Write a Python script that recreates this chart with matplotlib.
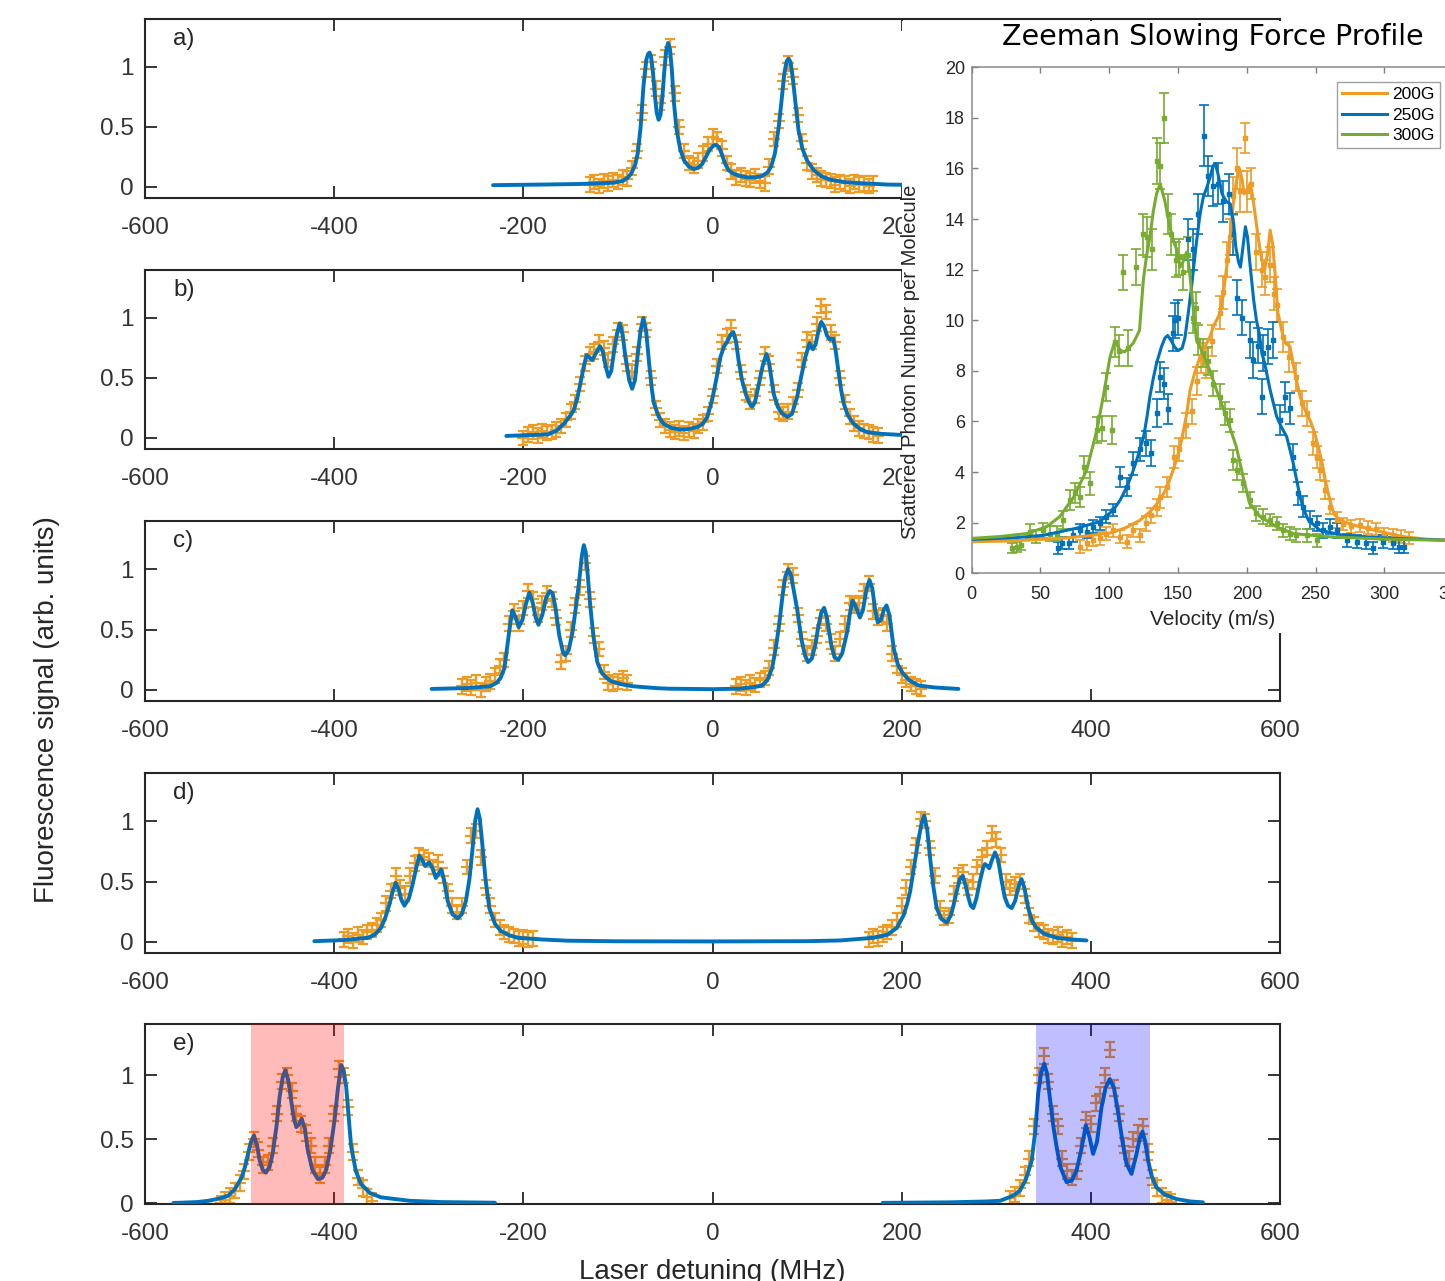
import matplotlib
matplotlib.use("Agg")
import matplotlib.pyplot as plt
from matplotlib.patches import Rectangle
from matplotlib.lines import Line2D

plt.rcParams["font.family"] = ["Liberation Sans", "DejaVu Sans"]
plt.rcParams["axes.unicode_minus"] = False

ORANGE = "#EF9B24"
BLUE = "#0072BD"
GREEN = "#77AC30"
AXC = "#262626"

# ---------------- main panels: measured points (5 MHz scan) ----------------
a_x = [-130, -125, -120, -115, -110, -105, -100, -95, -90, -85,
       -80, -75, -70, -65, -60, -55, -50, -45, -40, -35,
       -30, -25, -20, -15, -10, -5, 0, 5, 10, 15,
       20, 25, 30, 35, 40, 45, 50, 55, 60, 65,
       70, 75, 80, 85, 90, 95, 100, 105, 110, 115,
       120, 125, 130, 135, 140, 145, 150, 155, 160, 165, 170]
a_y = [0.02, 0.04, 0.01, 0.05, 0.03, 0.06, 0.04, 0.08, 0.07, 0.16,
       0.30, 0.62, 0.98, 1.04, 0.82, 0.70, 1.08, 1.17, 0.78, 0.50,
       0.30, 0.20, 0.18, 0.22, 0.28, 0.36, 0.42, 0.40, 0.32, 0.20,
       0.13, 0.08, 0.10, 0.07, 0.06, 0.09, 0.05, 0.03, 0.17, 0.40,
       0.55, 0.88, 1.03, 0.92, 0.60, 0.38, 0.20, 0.13, 0.10, 0.07,
       0.06, 0.05, 0.02, 0.04, 0.03, 0.01, 0.04, 0.02, 0.03, 0.01, 0.03]

b_x = [-200, -195, -190, -185, -180, -175, -170, -165, -160, -155,
       -150, -145, -140, -135, -130, -125, -120, -115, -110, -105,
       -100, -95, -90, -85, -80, -75, -70, -65, -60, -55,
       -50, -45, -40, -35, -30, -25, -20, -15, -10, -5,
       0, 5, 10, 15, 20, 25, 30, 35, 40, 45,
       50, 55, 60, 65, 70, 75, 80, 85, 90, 95,
       100, 105, 110, 115, 120, 125, 130, 135, 140, 145,
       150, 155, 160, 165, 170, 175]
b_y = [0.00, 0.03, 0.05, 0.02, 0.06, 0.04, 0.05, 0.07, 0.10, 0.15,
       0.22, 0.30, 0.45, 0.62, 0.70, 0.72, 0.80, 0.75, 0.65, 0.78,
       0.90, 0.88, 0.62, 0.55, 0.70, 0.95, 0.90, 0.50, 0.25, 0.15,
       0.10, 0.07, 0.05, 0.08, 0.04, 0.07, 0.06, 0.10, 0.13, 0.20,
       0.35, 0.60, 0.80, 0.85, 0.92, 0.80, 0.55, 0.38, 0.30, 0.35,
       0.50, 0.70, 0.62, 0.38, 0.22, 0.20, 0.22, 0.28, 0.40, 0.65,
       0.82, 0.80, 0.95, 1.10, 1.05, 0.88, 0.80, 0.50, 0.30, 0.18,
       0.12, 0.08, 0.06, 0.05, 0.03, 0.02]

c_x = [-265, -260, -255, -250, -245, -240, -235, -230, -225, -220,
       -215, -210, -205, -200, -195, -190, -185, -180, -175, -170,
       -165, -160, -155, -150, -145, -140, -135, -130, -125, -120,
       -115, -110, -105, -100, -95, -90,
       25, 30, 35, 40, 45, 50, 55, 60, 65, 70,
       75, 80, 85, 90, 95, 100, 105, 110, 115, 120,
       125, 130, 135, 140, 145, 150, 155, 160, 165, 170,
       175, 180, 185, 190, 195, 200, 205, 210, 215, 220]
c_y = [0.03, 0.05, 0.02, 0.06, 0.00, 0.05, 0.07, 0.12, 0.20, 0.25,
       0.55, 0.65, 0.55, 0.68, 0.82, 0.75, 0.62, 0.72, 0.80, 0.75,
       0.60, 0.23, 0.30, 0.50, 0.70, 0.85, 1.05, 0.75, 0.45, 0.34,
       0.15, 0.06, 0.05, 0.07, 0.10, 0.06,
       0.03, 0.05, 0.02, 0.06, 0.04, 0.08, 0.10, 0.18, 0.35, 0.55,
       0.85, 0.98, 0.95, 0.62, 0.42, 0.30, 0.35, 0.45, 0.60, 0.55,
       0.40, 0.30, 0.42, 0.55, 0.72, 0.70, 0.72, 0.82, 0.88, 0.65,
       0.60, 0.62, 0.55, 0.30, 0.20, 0.12, 0.08, 0.05, 0.03, 0.01]

d_x = [-390, -385, -380, -375, -370, -365, -360, -355, -350, -345,
       -340, -335, -330, -325, -320, -315, -310, -305, -300, -295,
       -290, -285, -280, -275, -270, -265, -260, -255, -250, -245,
       -240, -235, -230, -225, -220, -215, -210, -205, -200, -195, -190,
       165, 170, 175, 180, 185, 190, 195, 200, 205, 210,
       215, 220, 225, 230, 235, 240, 245, 250, 255, 260,
       265, 270, 275, 280, 285, 290, 295, 300, 305, 310,
       315, 320, 325, 330, 335, 340, 345, 350, 355, 360,
       365, 370, 375, 380]
d_y = [0.02, 0.05, 0.01, 0.06, 0.04, 0.08, 0.10, 0.14, 0.18, 0.32,
       0.42, 0.55, 0.45, 0.40, 0.55, 0.65, 0.72, 0.70, 0.68, 0.62,
       0.66, 0.55, 0.42, 0.30, 0.25, 0.30, 0.62, 0.88, 0.92, 0.70,
       0.45, 0.30, 0.18, 0.12, 0.08, 0.06, 0.05, 0.03, 0.04, 0.02, 0.03,
       0.02, 0.05, 0.03, 0.06, 0.08, 0.12, 0.18, 0.30, 0.45, 0.62,
       0.80, 1.02, 1.00, 0.78, 0.55, 0.28, 0.20, 0.22, 0.40, 0.55,
       0.58, 0.45, 0.50, 0.62, 0.70, 0.78, 0.90, 0.85, 0.72, 0.50,
       0.45, 0.48, 0.50, 0.38, 0.22, 0.15, 0.10, 0.08, 0.05, 0.04,
       0.06, 0.02, 0.04, 0.01]

e_x = [-520, -515, -510, -505, -500, -495, -490, -485, -480, -475,
       -470, -465, -460, -455, -450, -445, -440, -435, -430, -425,
       -420, -415, -410, -405, -400, -395, -390, -385, -380, -375,
       -370, -365, -360,
       315, 320, 325, 330, 335, 340, 345, 350, 355, 360,
       365, 370, 375, 380, 385, 390, 395, 400, 405, 410,
       415, 420, 425, 430, 435, 440, 445, 450, 455, 460,
       465, 470, 475, 480, 485]
e_y = [0.00, 0.03, 0.06, 0.10, 0.16, 0.25, 0.40, 0.50, 0.42, 0.30,
       0.32, 0.45, 0.70, 0.95, 1.00, 0.88, 0.70, 0.62, 0.55, 0.45,
       0.30, 0.22, 0.30, 0.45, 0.70, 1.05, 1.00, 0.75, 0.40, 0.20,
       0.12, 0.05, 0.02,
       0.04, 0.07, 0.12, 0.22, 0.35, 0.60, 1.00, 1.15, 0.95, 0.70,
       0.60, 0.35, 0.25, 0.20, 0.25, 0.45, 0.65, 0.62, 0.78, 0.85,
       1.00, 1.20, 0.90, 0.70, 0.45, 0.35, 0.50, 0.55, 0.60, 0.40,
       0.20, 0.12, 0.06, 0.03, 0.01]

data_err = 0.06

# ---------------- main panels: fitted spectra ----------------
a_fit_x = [-232, -180, -140, -115, -104, -95, -90, -86, -82, -79, -76, -73, -70, -68,
           -66.5, -65, -63, -61, -59, -57, -55, -53, -51, -49, -47, -45, -43, -41,
           -38, -34, -30, -25, -20, -15, -11, -7, -3, 1, 4, 7, 10, 13, 17, 22, 30,
           37, 45, 52, 58, 62, 66, 70, 73, 76, 78.5, 80.5, 82.5, 85, 88, 91, 95,
           100, 107, 115, 125, 140, 160, 185, 230]
a_fit_y = [0.015, 0.02, 0.025, 0.032, 0.036, 0.05, 0.075, 0.11, 0.18, 0.28, 0.50, 0.84, 1.06, 1.11,
           1.12, 1.09, 0.96, 0.77, 0.62, 0.56, 0.60, 0.75, 0.96, 1.13, 1.20, 1.15, 0.98, 0.72,
           0.48, 0.31, 0.22, 0.17, 0.15, 0.16, 0.19, 0.25, 0.31, 0.345, 0.35, 0.33, 0.27, 0.20, 0.14, 0.11, 0.09,
           0.08, 0.08, 0.09, 0.12, 0.17, 0.28, 0.50, 0.72, 0.95, 1.05, 1.07, 1.04, 0.90, 0.68, 0.47, 0.32,
           0.22, 0.14, 0.09, 0.06, 0.04, 0.03, 0.02, 0.015]

b_fit_x = [-218, -190, -174, -165, -157, -150, -146.7, -143, -139, -136, -133, -130, -127, -123,
           -119, -116, -113, -110, -107, -104.5, -101, -98, -95, -92, -88, -85, -82, -79,
           -76, -73, -70, -67, -64, -62, -57, -52, -44, -34, -25, -16, -10, -5.6, -2, 1,
           5, 8.4, 12, 15.4, 19, 22, 25, 27.5, 31, 35, 39, 42, 45, 49, 53, 57, 60, 64.6,
           69, 73.6, 79, 84, 89.4, 94, 98.2, 102.6, 106, 109, 112, 115, 118, 121, 124,
           127.5, 130, 133, 136, 138.6, 143, 149, 156, 163, 177, 200, 230]
b_fit_y = [0.017, 0.025, 0.03, 0.06, 0.12, 0.19, 0.23, 0.33, 0.48, 0.60, 0.69, 0.67, 0.65, 0.71,
           0.765, 0.72, 0.60, 0.51, 0.56, 0.70, 0.87, 0.955, 0.86, 0.67, 0.48, 0.41, 0.48, 0.70,
           0.90, 1.00, 0.88, 0.62, 0.40, 0.29, 0.18, 0.12, 0.085, 0.07, 0.075, 0.09, 0.12, 0.175, 0.27, 0.37,
           0.53, 0.675, 0.76, 0.80, 0.86, 0.883, 0.80, 0.65, 0.49, 0.37, 0.29, 0.26, 0.30, 0.45, 0.60, 0.70, 0.62, 0.37,
           0.26, 0.205, 0.175, 0.20, 0.34, 0.52, 0.675, 0.79, 0.74, 0.78, 0.89, 0.967, 0.93, 0.855, 0.82,
           0.83, 0.74, 0.565, 0.40, 0.29, 0.19, 0.12, 0.075, 0.05, 0.035, 0.025, 0.02]

c_fit_x = [-297, -260, -235, -228, -224, -220, -218, -215, -211.7, -208, -205, -201, -197, -193.6,
           -190, -187, -184, -180, -176, -172, -169, -166, -162, -158, -155.8, -152, -148, -144.5,
           -141, -138, -136, -134, -132, -129.4, -126, -121.8, -117, -112, -106.7, -95, -84, -60,
           -46, 0, 29, 45, 52, 58, 63, 67, 70.8, 74, 77, 80, 83, 86, 89.7, 94, 98, 101, 105,
           108.6, 112, 115, 118, 121, 125.6, 129, 133, 137, 140, 142.6, 145, 148, 151, 155.8,
           159, 163, 166, 169, 172, 174.7, 178, 181, 184, 187, 191.7, 196, 201, 208, 218, 235, 260]
c_fit_y = [0.008, 0.015, 0.03, 0.06, 0.10, 0.18, 0.30, 0.48, 0.66, 0.60, 0.52, 0.58, 0.72, 0.806,
           0.72, 0.60, 0.54, 0.62, 0.76, 0.82, 0.80, 0.68, 0.45, 0.31, 0.287, 0.33, 0.48, 0.68,
           0.90, 1.12, 1.20, 1.14, 0.96, 0.71, 0.45, 0.23, 0.14, 0.10, 0.07, 0.045, 0.03, 0.015,
           0.01, 0.006, 0.01, 0.025, 0.035, 0.08, 0.18, 0.35, 0.56, 0.78, 0.94, 1.00, 0.95, 0.82, 0.66, 0.42, 0.28, 0.23, 0.26,
           0.37, 0.53, 0.64, 0.68, 0.60, 0.37, 0.27, 0.25, 0.30, 0.40, 0.49, 0.62, 0.74, 0.70, 0.60,
           0.66, 0.84, 0.91, 0.84, 0.66, 0.56, 0.58, 0.66, 0.70, 0.62, 0.34, 0.21, 0.14, 0.08, 0.036, 0.02, 0.008]

d_fit_x = [-421, -390, -364.5, -357, -350.4, -346, -341.6, -338, -335, -332, -329, -325.8, -321, -317,
           -313, -310, -307, -304, -301.5, -299.5, -296, -292.5, -290, -287, -284, -280, -275,
           -269.5, -265, -260.7, -257, -253.6, -251, -248.4, -246, -243, -240, -236, -230, -223.7,
           -215, -206, -180, -153, -100, 0, 100, 135, 170, 185, 195, 202, 206, 209, 213, 217.6,
           221, 223.8, 227, 230, 233.5, 237, 242, 247.7, 252, 255, 258.2, 261.5, 264.6, 267.5,
           270.5, 273, 275.8, 279, 282.8, 286, 288, 290.5, 292.6, 295.5, 298.7, 302, 305.7, 309,
           312.5, 316.3, 320, 323.5, 326.8, 330, 333.8, 338, 342.6, 350, 363.8, 380, 395.4]
d_fit_y = [0.006, 0.015, 0.034, 0.06, 0.117, 0.20, 0.31, 0.42, 0.49, 0.44, 0.35, 0.30, 0.36, 0.48,
           0.62, 0.714, 0.68, 0.63, 0.645, 0.66, 0.61, 0.53, 0.56, 0.60, 0.52, 0.34, 0.23,
           0.195, 0.23, 0.34, 0.52, 0.78, 1.00, 1.10, 1.02, 0.78, 0.52, 0.28, 0.15, 0.09,
           0.055, 0.034, 0.02, 0.01, 0.005, 0.004, 0.006, 0.012, 0.034, 0.06, 0.117, 0.22, 0.32, 0.42, 0.62, 0.84,
           0.98, 1.047, 0.93, 0.70, 0.46, 0.28, 0.19, 0.16, 0.22, 0.31, 0.42, 0.52, 0.547, 0.47,
           0.37, 0.30, 0.28, 0.36, 0.506, 0.61, 0.645, 0.63, 0.61, 0.68, 0.742, 0.68, 0.506, 0.37,
           0.30, 0.28, 0.34, 0.46, 0.52, 0.44, 0.28, 0.17, 0.117, 0.07, 0.034, 0.02, 0.012]

e_fit_left_x = [-570, -545, -533, -520, -512, -505, -498, -494, -491, -488, -484.8, -481.5, -478.8,
                -475.5, -472.4, -468.5, -465, -461, -457.7, -454.5, -451.7, -448.5, -445.4, -442.5,
                -440, -437, -434.3, -431, -427.8, -423, -417.3, -412.5, -408.5, -404, -399.6, -396,
                -392.6, -390, -387.3, -384.5, -382, -377, -371.5, -362, -350.4, -320, -287, -230]
e_fit_left_y = [0.003, 0.01, 0.02, 0.04, 0.06, 0.11, 0.20, 0.29, 0.39, 0.48, 0.53, 0.45, 0.335,
                0.26, 0.24, 0.28, 0.39, 0.60, 0.83, 0.98, 1.04, 0.96, 0.80, 0.66,
                0.595, 0.62, 0.66, 0.58, 0.413, 0.26, 0.19, 0.20, 0.26, 0.42, 0.65, 0.90,
                1.08, 1.04, 0.91, 0.66, 0.44, 0.25, 0.15, 0.08, 0.047, 0.02, 0.01, 0.005]
e_fit_right_x = [180, 250, 290, 304, 318, 325, 331, 337.4, 341, 344.4, 347.5, 350.7, 353.5, 356.6,
                 360, 363.8, 368, 374.4, 380, 385, 390, 394.7, 398.5, 402.4, 406.5, 411.3, 415.5,
                 420, 424.5, 429, 433.5, 437.7, 443, 448.3, 451.5, 454.6, 457.5, 460.5, 464.5,
                 469.3, 478, 490.4, 505, 518.5]
e_fit_right_y = [0.004, 0.008, 0.015, 0.02, 0.06, 0.10, 0.18, 0.33, 0.55, 0.86, 1.02, 1.09, 1.02, 0.83,
                 0.62, 0.44, 0.28, 0.165, 0.18, 0.26, 0.42, 0.61, 0.52, 0.386, 0.48, 0.75, 0.90,
                 0.97, 0.90, 0.70, 0.48, 0.31, 0.23, 0.386, 0.50, 0.56, 0.48, 0.335, 0.21,
                 0.125, 0.07, 0.034, 0.015, 0.008]

panel_labels = ["a)", "b)", "c)", "d)", "e)"]
red_band = (-488, -390)
blue_band = (342, 463)

# ---------------- inset: Zeeman slowing force profile ----------------
fields = ["200G", "250G", "300G"]

v200 = [78.5, 83.6, 88.4, 93, 98, 103, 107.8, 112.6, 117.5, 122.4,
        127, 130.7, 134.4, 137, 142, 147, 151, 156, 160, 163.5,
        167, 170.5, 175, 180.5, 183, 185.4, 187.6, 190, 192.6, 195,
        198.7, 200.5, 203.2, 207, 210.8, 213, 217, 220, 222, 226.6,
        231, 236, 240, 243.5, 248.3, 250.7, 253, 257, 260.6, 265.5,
        270, 276, 282, 288, 294, 300, 306, 312, 318]
n200 = [1.05, 1.18, 1.32, 1.38, 1.57, 1.70, 1.45, 1.25, 1.70, 1.50,
        1.97, 2.30, 2.60, 3.00, 3.40, 4.60, 4.90, 5.85, 6.40, 7.60,
        8.50, 8.30, 9.20, 10.3, 11.1, 12.4, 13.3, 14.9, 16.0, 15.1,
        17.2, 15.1, 15.4, 12.7, 12.0, 11.7, 12.2, 11.05, 10.6, 9.35,
        8.56, 7.77, 6.72, 6.33, 5.14, 4.60, 4.08, 3.30, 2.64, 2.11,
        1.95, 1.85, 1.90, 1.80, 1.75, 1.55, 1.50, 1.45, 1.40]
e200 = [0.25, 0.25, 0.25, 0.25, 0.25, 0.25, 0.25, 0.25, 0.25, 0.25,
        0.3, 0.3, 0.35, 0.4, 0.4, 0.45, 0.45, 0.5, 0.5, 0.55,
        0.6, 0.6, 0.6, 0.65, 0.65, 0.7, 0.7, 0.75, 0.8, 0.8,
        0.6, 0.8, 0.6, 0.7, 0.7, 0.7, 0.7, 0.65, 0.65, 0.6,
        0.6, 0.55, 0.5, 0.5, 0.45, 0.45, 0.4, 0.35, 0.3, 0.3,
        0.25, 0.25, 0.25, 0.25, 0.25, 0.25, 0.25, 0.25, 0.25]

v250 = [62.6, 66, 71, 74, 78.5, 83.6, 88.4, 93, 98, 103,
        107.8, 112.6, 117.5, 122.4, 127, 130.7, 134.4, 137, 140, 142.9,
        146.6, 148, 150, 157.5, 161, 164.5, 169, 171.8, 175.5, 179,
        182.8, 187, 190, 192.6, 196.3, 202.3, 204.7, 208.3, 210.8, 212,
        215.6, 219.3, 224, 227.7, 231.4, 233.8, 237.5, 241, 246, 251,
        255.7, 260.6, 265.5, 272.6, 279.8, 287, 292, 299, 306, 311, 314]
n250 = [1.00, 1.20, 1.20, 1.50, 1.70, 1.64, 1.84, 1.97, 2.24, 2.50,
        3.80, 3.40, 4.35, 4.90, 5.14, 4.75, 6.33, 7.77, 7.50, 6.50,
        9.48, 10.0, 10.1, 13.2, 12.8, 14.2, 17.3, 15.7, 15.3, 15.4,
        14.7, 15.0, 13.4, 10.9, 10.1, 9.22, 8.43, 9.00, 6.98, 8.70,
        8.96, 9.22, 6.05, 6.98, 6.52, 4.60, 3.16, 2.64, 2.11, 1.97,
        1.70, 1.84, 1.70, 1.30, 1.25, 1.20, 1.00, 1.25, 1.20, 1.05, 1.05]
e250 = [0.25, 0.25, 0.25, 0.25, 0.25, 0.25, 0.25, 0.25, 0.25, 0.25,
        0.4, 0.35, 0.45, 0.45, 0.5, 0.5, 0.55, 0.6, 0.6, 0.6,
        0.7, 0.7, 0.7, 0.8, 0.8, 0.8, 1.2, 0.8, 0.8, 0.8,
        0.8, 0.8, 0.8, 0.7, 0.7, 0.7, 0.7, 0.7, 0.7, 0.7,
        0.7, 0.7, 0.6, 0.6, 0.6, 0.5, 0.45, 0.4, 0.35, 0.3,
        0.3, 0.3, 0.3, 0.25, 0.25, 0.25, 0.25, 0.25, 0.25, 0.25, 0.25]

v300 = [29, 32.7, 36, 42.4, 47, 52, 57, 61.7, 66.6, 71.5,
        75, 78.5, 82, 85.7, 90.8, 94.5, 98, 101.7, 104, 107,
        110, 114, 119.5, 124.8, 127.2, 131.3, 134.4, 137, 139.5, 142.6,
        145, 148.6, 151, 153.5, 157, 160.8, 163, 164.5, 168, 171.7,
        175.5, 180.5, 184, 187.8, 190, 192.6, 197.3, 202.3, 207, 212,
        217, 221.7, 226.6, 231.4, 236, 243.5, 251]
n300 = [1.00, 1.05, 1.12, 1.64, 1.45, 1.70, 1.57, 1.57, 2.10, 2.90,
        3.16, 3.03, 4.20, 3.56, 5.66, 5.73, 7.38, 5.66, 9.15, 8.80,
        11.9, 8.90, 12.1, 13.4, 13.3, 12.8, 16.3, 16.1, 18.0, 14.2,
        13.4, 12.4, 12.5, 11.9, 12.6, 10.1, 10.5, 9.22, 8.70, 8.40,
        7.50, 6.98, 6.33, 6.05, 4.48, 4.08, 3.56, 2.90, 2.37, 2.24,
        2.11, 1.97, 1.70, 1.57, 1.50, 1.50, 1.30]
e300 = [0.2, 0.2, 0.2, 0.3, 0.25, 0.3, 0.3, 0.3, 0.35, 0.4,
        0.4, 0.4, 0.45, 0.45, 0.5, 0.5, 0.55, 0.55, 0.6, 0.6,
        0.7, 0.7, 0.7, 0.8, 0.8, 0.8, 0.9, 0.9, 1.0, 0.8,
        0.8, 0.7, 0.7, 0.7, 0.7, 0.6, 0.6, 0.6, 0.55, 0.55,
        0.5, 0.5, 0.45, 0.45, 0.4, 0.4, 0.35, 0.3, 0.3, 0.3,
        0.25, 0.25, 0.25, 0.25, 0.25, 0.25, 0.25]

fit200_v = [0, 30, 64, 85, 101, 112, 122.4, 130, 137, 142, 146.6, 150, 152.6, 156, 158.8, 162,
            166, 170, 173.2, 176, 180.5, 183, 185.4, 188, 190.2, 192.5, 194.6, 196.5, 198, 200,
            202.3, 204, 206, 208.5, 210.8, 213, 215, 217, 218.8, 220.2, 222.6, 225.4, 228, 231.4,
            233, 235, 238.8, 242, 246, 249, 252, 255, 257, 259.5, 261.8, 264, 267.9, 275, 282.4,
            297, 313.8, 330, 350]
fit200_n = [1.25, 1.28, 1.38, 1.48, 1.60, 1.80, 2.10, 2.45, 2.90, 3.40, 4.10, 4.70, 5.27, 6.20, 7.24, 7.90,
            8.56, 9.00, 9.35, 9.80, 10.26, 11.1, 12.1, 13.4, 14.6, 15.5, 16.0, 15.6, 15.0, 15.1,
            15.4, 15.0, 14.2, 13.2, 12.4, 12.0, 12.6, 13.56, 13.0, 12.1, 10.3, 9.60, 9.10, 8.96,
            8.50, 7.90, 6.98, 6.50, 6.05, 5.60, 5.00, 4.30, 3.69, 3.10, 2.60, 2.30, 2.10, 1.95, 1.84,
            1.65, 1.45, 1.35, 1.30]

fit250_v = [0, 30, 52, 76, 93, 103, 108, 113, 117, 120, 125, 127.5, 129.6, 132, 134.4, 138, 140.5,
            142.5, 145, 147.5, 150, 153, 155, 157.5, 160, 163, 166, 168.5, 171, 173.5, 175.5, 177,
            179, 182, 185, 188, 190.5, 192, 194, 195.4, 197, 199, 200.5, 202, 205, 207, 209, 211,
            213, 217, 221.7, 225, 229, 233.8, 238.7, 241.5, 244.8, 253, 270, 306, 350]
fit250_n = [1.34, 1.40, 1.50, 1.78, 2.04, 2.50, 2.90, 3.43, 4.00, 4.48, 5.40, 6.20, 7.00, 7.70, 8.30, 8.96, 9.30,
            9.40, 9.20, 8.95, 8.80, 8.90, 9.30, 10.3, 11.4, 12.9, 14.2, 14.9, 15.26, 15.7, 16.1, 16.2,
            15.8, 15.0, 14.7, 14.6, 13.8, 12.9, 12.3, 12.1, 12.8, 13.7, 13.3, 12.4, 10.8, 10.0, 9.50, 8.70,
            8.30, 7.24, 6.20, 5.80, 5.40, 4.35, 3.03, 2.50, 2.10, 1.71, 1.50, 1.38, 1.30]

fit300_v = [0, 20, 40, 54.5, 64, 74, 83.6, 91, 95.7, 100.6, 104, 106, 108, 111, 114, 117.5, 122,
            124.8, 127, 129.6, 132, 134.4, 137, 140.5, 144, 147, 149, 151.5, 153.5, 156.3, 158, 160,
            163.5, 167, 173, 178, 185, 192.4, 197.3, 202, 209.6, 221.7, 233.8, 258, 300, 350]
fit300_n = [1.38, 1.45, 1.57, 1.84, 2.24, 3.00, 4.08, 5.66, 7.00, 8.56, 9.15, 9.00, 8.80, 8.75, 8.90, 9.10, 9.60,
            11.6, 12.5, 13.3, 14.3, 15.0, 15.4, 14.7, 13.7, 13.1, 12.8, 12.1, 12.3, 12.7, 12.1, 11.06,
            9.20, 8.83, 8.04, 7.24, 6.20, 5.00, 3.82, 2.77, 2.24, 1.84, 1.57, 1.45, 1.35, 1.30]

W, H = 1445, 1281
fig = plt.figure(figsize=(W / 100, H / 100), dpi=100)


def fx(px):
    return px / W


def fy(py):
    return 1 - py / H


panel_px = [(19, 198), (270, 449), (521, 701), (773, 953), (1024, 1204)]
panels = [
    (a_x, a_y, [(a_fit_x, a_fit_y)]),
    (b_x, b_y, [(b_fit_x, b_fit_y)]),
    (c_x, c_y, [(c_fit_x, c_fit_y)]),
    (d_x, d_y, [(d_fit_x, d_fit_y)]),
    (e_x, e_y, [(e_fit_left_x, e_fit_left_y), (e_fit_right_x, e_fit_right_y)]),
]

axes = []
for i, ((top, bot), (dx, dy, fits)) in enumerate(zip(panel_px, panels)):
    ax = fig.add_axes([fx(145), fy(bot), fx(1280 - 145), (bot - top) / H])
    ax.set_zorder(0)
    ax.errorbar(dx, dy, yerr=data_err, fmt="+", color=ORANGE, ms=8, mew=1.6,
                elinewidth=1.6, capsize=3.5, capthick=1.6, zorder=2)
    for fxs, fys in fits:
        ax.plot(fxs, fys, color=BLUE, lw=2.8, solid_capstyle="round", zorder=3)
    ax.set_xlim(-600, 600)
    if i == 4:
        ax.set_ylim(-0.005, 1.4)
    else:
        ax.set_ylim(-0.092, 1.4)
    ax.set_xticks([-600, -400, -200, 0, 200, 400, 600])
    ax.set_yticks([0, 0.5, 1])
    ax.set_yticklabels(["0", "0.5", "1"])
    ax.tick_params(direction="in", length=8.5, width=1.3, top=True, right=True,
                   labelsize=17.5, colors=AXC, labelcolor="#333333")
    ax.tick_params(axis="x", pad=14)
    ax.tick_params(axis="y", pad=8)
    for s in ax.spines.values():
        s.set_color(AXC)
        s.set_linewidth(1.5)
    ax.text(0.025, 0.95, panel_labels[i], transform=ax.transAxes, ha="left", va="top",
            fontsize=17.5, color="#262626")
    axes.append(ax)

# shaded windows in panel e
axes[4].axvspan(*red_band, color=(1, 0, 0), alpha=0.27, lw=0, zorder=5)
axes[4].axvspan(*blue_band, color=(0, 0, 1), alpha=0.25, lw=0, zorder=5)

fig.text(fx(47), fy(710), "Fluorescence signal (arb. units)", rotation=90,
         ha="center", va="center", fontsize=20, color="#262626")
fig.text(fx(712), fy(1259), "Laser detuning (MHz)", ha="center", va="top",
         fontsize=20, color="#262626")

# white backing behind the inset figure
fig.patches.append(Rectangle((fx(902), fy(633)), fx(W - 902), (633 - 21) / H,
                             transform=fig.transFigure, facecolor="white",
                             edgecolor="none", zorder=1))

ax_in = fig.add_axes([fx(971.7), fy(573.3), fx(481.4), 506 / H])
ax_in.set_zorder(2)
inset_sets = [
    (v200, n200, e200, fit200_v, fit200_n, ORANGE),
    (v250, n250, e250, fit250_v, fit250_n, BLUE),
    (v300, n300, e300, fit300_v, fit300_n, GREEN),
]
for v, n, err, fv, fn, col in inset_sets:
    ax_in.errorbar(v, n, yerr=err, fmt="s", ms=3, color=col, elinewidth=1.2,
                   capsize=3.5, capthick=1.2, zorder=2)
for v, n, err, fv, fn, col in inset_sets:
    ax_in.plot(fv, fn, color=col, lw=2.2, zorder=3)

ax_in.set_xlim(0, 350)
ax_in.set_ylim(0, 20)
ax_in.set_xticks([0, 50, 100, 150, 200, 250, 300, 350])
ax_in.set_yticks(range(0, 21, 2))
ax_in.tick_params(direction="in", length=4, width=1, top=True, right=True,
                  labelsize=13, colors="#7f7f7f", labelcolor="#262626", pad=5)
ax_in.tick_params(axis="x", pad=9)
for s in ax_in.spines.values():
    s.set_color("#8a8a8a")
    s.set_linewidth(1.1)
ax_in.set_xlabel("Velocity (m/s)", fontsize=15, color="#262626", labelpad=5)
ax_in.set_title("Zeeman Slowing Force Profile", fontsize=20.5, family="DejaVu Sans",
                color="black", pad=16)

fig.text(fx(910), fy(362), "Scattered Photon Number per Molecule", rotation=90,
         ha="center", va="center", fontsize=14.5, color="#262626")

handles = [Line2D([], [], color=c, lw=2.2) for c in (ORANGE, BLUE, GREEN)]
ax_in.legend(handles, fields, loc="upper right", bbox_to_anchor=(fx(1440), fy(82)),
             bbox_transform=fig.transFigure, fontsize=12.5, frameon=True, fancybox=False,
             edgecolor="#8a8a8a", borderpad=0.3, handlelength=2.6, handletextpad=0.3,
             labelspacing=0.3, borderaxespad=0)

fig.savefig("out.png", dpi=100)
